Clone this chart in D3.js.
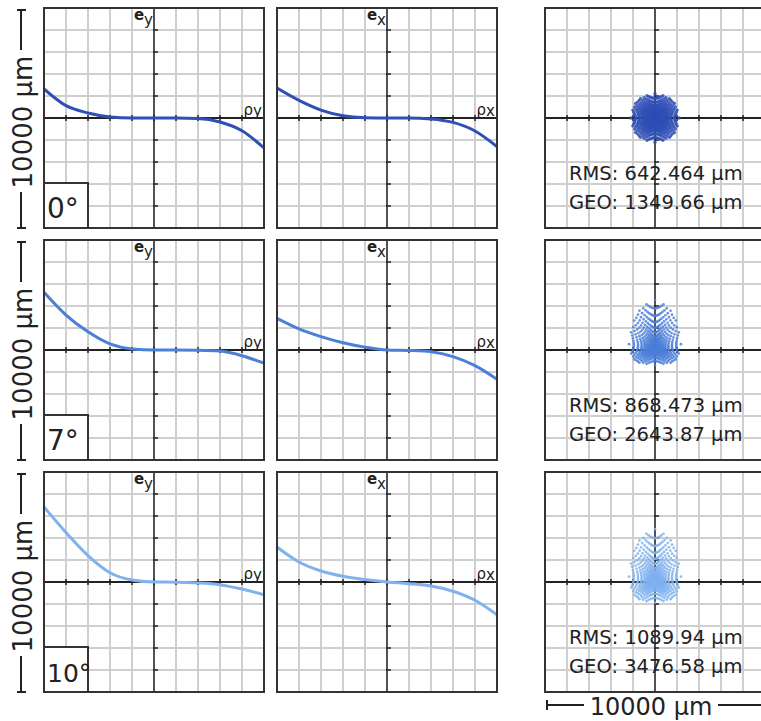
<!DOCTYPE html>
<html>
<head>
<meta charset="utf-8">
<script src="https://cdn.jsdelivr.net/npm/d3@7"></script>
<style>
  body { margin: 0; background: #fff; }
  text { font-family: "DejaVu Sans", sans-serif; fill: #222; }
</style>
</head>
<body>
<div id="chart"></div>
<script>
// field angles and spot statistics
const fields = ["0°", "7°", "10°"];
const rmsValues = ["642.464", "868.473", "1089.94"];
const geoValues = ["1349.66", "2643.87", "3476.58"];
const colors = ["#2f4fb6", "#4c7fd8", "#80b2ee"];

// normalised pupil coordinate of the fan samples
const pupil = [-1, -0.8, -0.6, -0.4, -0.2, 0, 0.2, 0.4, 0.6, 0.8, 1];

// tangential fan e_y (µm)
const eyFan = [
  [1320, 560, 230, 50, 0, 0, 0, -20, -180, -580, -1360],
  [2620, 1590, 830, 280, 50, 0, 0, -10, -50, -260, -600],
  [3410, 2250, 1200, 420, 90, 0, -10, -40, -120, -320, -580]
];
// sagittal fan e_x (µm)
const exFan = [
  [1360, 800, 360, 100, 10, 0, 0, -40, -200, -590, -1300],
  [1440, 960, 610, 330, 130, 0, -20, -80, -300, -710, -1330],
  [1590, 910, 500, 260, 110, 0, -75, -180, -420, -830, -1490]
];

// spot diagram aberration coefficients (µm)
const spotSphX = [-1100, -1180, -1180];
const spotSphY = [-1100, -1475, -1670];
const spotComaY = [0, 265, 243];
const pupilSteps = 31;

const W = 761, H = 721;
const size = 220;
const colX = [44, 277, 545];
const rowY = [8, 240, 472];

const svg = d3.select("#chart")
  .append("svg")
  .attr("width", W)
  .attr("height", H);

svg.append("defs").selectAll("clipPath")
  .data(d3.range(9))
  .enter()
  .append("clipPath")
  .attr("id", d => `clip${d}`)
  .append("rect")
  .attr("x", d => colX[d % 3])
  .attr("y", d => rowY[Math.floor(d / 3)])
  .attr("width", size)
  .attr("height", size);

function drawFrame(g, x, y, xLabel, yLabel) {
  const axisX = x(0), axisY = y(0);
  const [x0, x1] = x.range();
  const [y1, y0] = y.range();

  // grid
  g.selectAll(".vgrid")
    .data(x.ticks(10))
    .enter()
    .append("line")
    .attr("x1", d => x(d)).attr("x2", d => x(d))
    .attr("y1", y0).attr("y2", y1)
    .attr("stroke", "#cfcfcf")
    .attr("stroke-width", 2);
  g.selectAll(".hgrid")
    .data(y.ticks(10))
    .enter()
    .append("line")
    .attr("y1", d => y(d)).attr("y2", d => y(d))
    .attr("x1", x0).attr("x2", x1)
    .attr("stroke", "#cfcfcf")
    .attr("stroke-width", 2);

  // axes
  g.append("line")
    .attr("x1", x0).attr("x2", x1)
    .attr("y1", axisY).attr("y2", axisY)
    .attr("stroke", "#222").attr("stroke-width", 2);
  g.append("line")
    .attr("x1", axisX).attr("x2", axisX)
    .attr("y1", y0).attr("y2", y1)
    .attr("stroke", "#333").attr("stroke-width", 1.6);

  // ticks
  g.selectAll(".xtick")
    .data(x.ticks(10).slice(1, -1))
    .enter()
    .append("line")
    .attr("x1", d => x(d)).attr("x2", d => x(d))
    .attr("y1", axisY - 3).attr("y2", axisY + 3)
    .attr("stroke", "#222").attr("stroke-width", 1.5);
  g.selectAll(".ytick")
    .data(y.ticks(10).slice(1, -1))
    .enter()
    .append("line")
    .attr("y1", d => y(d)).attr("y2", d => y(d))
    .attr("x1", axisX - 1).attr("x2", axisX + 4)
    .attr("stroke", "#222").attr("stroke-width", 1.5);

  if (yLabel) {
    const t = g.append("text")
      .attr("x", axisX - 1)
      .attr("y", y0 + 12)
      .attr("text-anchor", "end")
      .style("font-size", "15px")
      .style("font-weight", "bold");
    t.append("tspan").text("e");
    t.append("tspan").attr("dy", 5).style("font-weight", "normal").text(yLabel);
  }
  if (xLabel) {
    const t = g.append("text")
      .attr("x", x1 - 2)
      .attr("y", axisY - 3)
      .attr("text-anchor", "end")
      .style("font-size", "15px");
    t.append("tspan").text("ρ");
    t.append("tspan").attr("dy", 1).text(xLabel);
  }
}

function drawBorder(g, x0, y0) {
  g.append("rect")
    .attr("x", x0).attr("y", y0)
    .attr("width", size).attr("height", size)
    .attr("fill", "none")
    .attr("stroke", "#333")
    .attr("stroke-width", 2);
}

fields.forEach((field, r) => {
  const y0 = rowY[r];

  // ray fans
  [[eyFan, "y"], [exFan, "x"]].forEach(([fan, sub], c) => {
    const x0 = colX[c];
    const x = d3.scaleLinear().domain([-1, 1]).range([x0, x0 + size]);
    const y = d3.scaleLinear().domain([-5000, 5000]).range([y0 + size, y0]);
    const g = svg.append("g");
    drawFrame(g, x, y, sub, sub);

    g.append("path")
      .datum(pupil.map((p, i) => [p, fan[r][i]]))
      .attr("clip-path", `url(#clip${r * 3 + c})`)
      .attr("fill", "none")
      .attr("stroke", colors[r])
      .attr("stroke-width", 3)
      .attr("d", d3.line()
        .x(d => x(d[0]))
        .y(d => y(d[1]))
        .curve(d3.curveMonotoneX));

    drawBorder(g, x0, y0);
  });

  // spot diagram
  const sx0 = colX[2];
  const sx = d3.scaleLinear().domain([-5000, 5000]).range([sx0, sx0 + size]);
  const sy = d3.scaleLinear().domain([-5000, 5000]).range([y0 + size, y0]);
  const gs = svg.append("g");
  drawFrame(gs, sx, sy, null, null);

  const grid = d3.range(pupilSteps).map(i => -1 + 2 * i / (pupilSteps - 1));
  const rays = [];
  grid.forEach(py => grid.forEach(px => {
    const rho2 = px * px + py * py;
    if (rho2 <= 1.0001) {
      rays.push({
        ex: spotSphX[r] * px * rho2,
        ey: spotSphY[r] * py * rho2 + spotComaY[r] * (px * px + 3 * py * py)
      });
    }
  }));

  gs.append("g")
    .selectAll("circle")
    .data(rays)
    .enter()
    .append("circle")
    .attr("cx", d => sx(d.ex))
    .attr("cy", d => sy(d.ey))
    .attr("r", r === 0 ? 1.7 : 1.35)
    .attr("fill", colors[r])
    .attr("fill-opacity", 0.85);

  gs.append("text")
    .attr("x", sx0 + 24)
    .attr("y", y0 + 172)
    .style("font-size", "19.5px")
    .text(`RMS: ${rmsValues[r]} µm`);
  gs.append("text")
    .attr("x", sx0 + 24)
    .attr("y", y0 + 201)
    .style("font-size", "19.5px")
    .text(`GEO: ${geoValues[r]} µm`);

  drawBorder(gs, sx0, y0);

  // field label box
  svg.append("rect")
    .attr("x", colX[0]).attr("y", y0 + size - 45)
    .attr("width", 44).attr("height", 45)
    .attr("fill", "#fff")
    .attr("stroke", "#333")
    .attr("stroke-width", 2);
  svg.append("text")
    .attr("x", colX[0] + 3)
    .attr("y", y0 + size - 10)
    .style("font-size", field.length > 2 ? "25px" : "28px")
    .text(field);

  // vertical scale bar
  const bar = svg.append("g");
  const cy = y0 + 114;
  bar.append("line")
    .attr("x1", 21).attr("x2", 21)
    .attr("y1", y0 + 2).attr("y2", cy - 72)
    .attr("stroke", "#222").attr("stroke-width", 2);
  bar.append("line")
    .attr("x1", 21).attr("x2", 21)
    .attr("y1", cy + 70).attr("y2", y0 + size)
    .attr("stroke", "#222").attr("stroke-width", 2);
  bar.selectAll(".serif")
    .data([y0 + 2, y0 + size])
    .enter()
    .append("line")
    .attr("x1", 17).attr("x2", 26)
    .attr("y1", d => d).attr("y2", d => d)
    .attr("stroke", "#222").attr("stroke-width", 2);
  bar.append("text")
    .attr("transform", `translate(32,${cy}) rotate(-90)`)
    .attr("text-anchor", "middle")
    .style("font-size", "26px")
    .text("10000 µm");
});

// horizontal scale bar under the spot diagrams
const hb = svg.append("g");
const barY = 705;
hb.append("line")
  .attr("x1", colX[2] + 2).attr("x2", 584)
  .attr("y1", barY).attr("y2", barY)
  .attr("stroke", "#222").attr("stroke-width", 2);
hb.append("line")
  .attr("x1", 718).attr("x2", W)
  .attr("y1", barY).attr("y2", barY)
  .attr("stroke", "#222").attr("stroke-width", 2);
hb.append("line")
  .attr("x1", colX[2] + 2).attr("x2", colX[2] + 2)
  .attr("y1", barY - 5).attr("y2", barY + 5)
  .attr("stroke", "#222").attr("stroke-width", 2);
hb.append("text")
  .attr("x", 651)
  .attr("y", 715)
  .attr("text-anchor", "middle")
  .style("font-size", "24px")
  .text("10000 µm");
</script>
</body>
</html>
